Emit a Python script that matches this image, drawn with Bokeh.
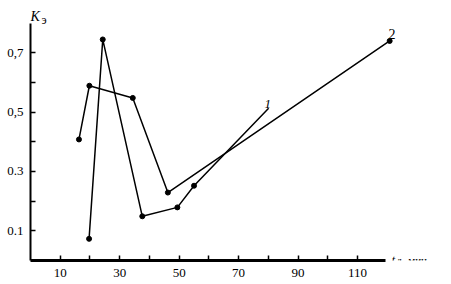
from bokeh.plotting import figure
from bokeh.models import FixedTicker, Label, Range1d
from bokeh.core.properties import value
from bokeh.embed import file_html
from bokeh.resources import INLINE

# Curve 1
x1 = [19.7, 24.3, 37.6, 49.4, 55.0, 80.1]
y1 = [0.073, 0.745, 0.149, 0.179, 0.252, 0.513]
# Curve 2
x2 = [16.3, 19.8, 34.4, 46.2, 120.8]
y2 = [0.408, 0.589, 0.548, 0.229, 0.740]

x_ticks = [10, 20, 30, 40, 50, 60, 70, 80, 90, 100, 110]
x_tick_labels = {10: "10", 20: "", 30: "30", 40: "", 50: "50", 60: "", 70: "70",
                 80: "", 90: "90", 100: "", 110: "110"}
y_ticks = [0.1, 0.2, 0.3, 0.4, 0.5, 0.6, 0.7]
y_tick_labels = {0.1: "0.1", 0.2: "", 0.3: "0.3", 0.4: "", 0.5: "0,5", 0.6: "", 0.7: "0,7"}

FONT = "Liberation Serif"

p = figure(width=451, height=284, output_backend="svg", toolbar_location=None,
           x_range=Range1d(0, 141.6), y_range=Range1d(0, 0.8763),
           min_border_left=30, min_border_right=0, min_border_top=0, min_border_bottom=24)
p.outline_line_color = None
p.xgrid.visible = False
p.ygrid.visible = False
p.background_fill_color = "white"
p.border_fill_color = "white"

for ax in (p.xaxis[0], p.yaxis[0]):
    ax.major_tick_in = 5
    ax.major_tick_out = 0
    ax.minor_tick_in = 0
    ax.minor_tick_out = 0
    ax.major_tick_line_width = 1.5
    ax.major_tick_line_color = "black"
    ax.axis_line_color = "black"
    ax.major_label_text_font = FONT
    ax.major_label_text_font_size = "13px"
    ax.major_label_text_color = "black"

p.xaxis.ticker = FixedTicker(ticks=x_ticks)
p.xaxis.major_label_overrides = x_tick_labels
p.xaxis.axis_line_width = 3
p.xaxis.bounds = (0, 119.5)
p.xaxis.major_label_standoff = 8

p.yaxis.ticker = FixedTicker(ticks=y_ticks)
p.yaxis.major_label_overrides = y_tick_labels
p.yaxis.axis_line_width = 2
p.yaxis.bounds = (0, 0.80)
p.yaxis.major_label_standoff = 7

p.line(x1, y1, line_color="black", line_width=1.5)
p.scatter(x1[:-1], y1[:-1], size=5, color="black")
p.line(x2, y2, line_color="black", line_width=1.5)
p.scatter(x2, y2, size=5, color="black")

def lab(x, y, t, size, style="normal"):
    p.add_layout(Label(x=x, y=y, text=t, text_font=FONT, text_font_size=size,
                       text_font_style=style, text_color="black",
                       text_baseline="alphabetic", text_align="left"))

lab(78.7, 0.526, "1", "13px", "italic")
lab(120.4, 0.765, "2", "14px")
lab(0.0, 0.822, "K", "14px", "italic")
lab(3.7, 0.812, "э", "12px")

# x-axis title drawn as text glyphs inside the frame
p.text(x=[121.5], y=[0.002], text=["t"], text_font=value(FONT), text_font_size="12px",
       text_font_style="italic", text_color="black", text_baseline="alphabetic")
p.text(x=[123.2], y=[0.0], text=["д"], text_font=value(FONT), text_font_size="10px",
       text_color="black", text_baseline="alphabetic")
p.text(x=[125.2], y=[0.002], text=[", мин"], text_font=value(FONT), text_font_size="11px",
       text_color="black", text_baseline="alphabetic")

open("out.html", "w").write(file_html(p, INLINE))
